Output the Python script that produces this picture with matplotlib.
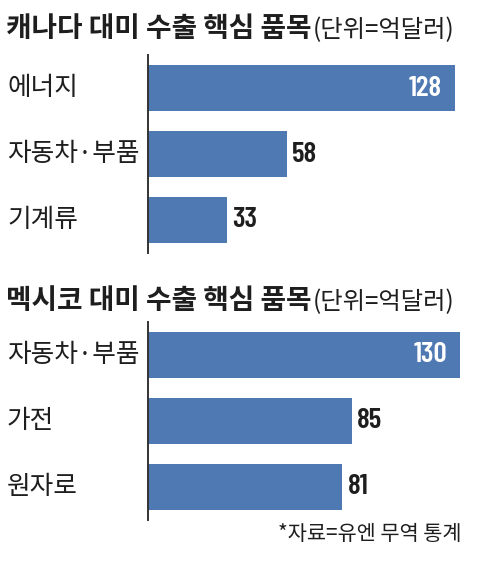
import matplotlib
matplotlib.use("Agg")
import matplotlib.pyplot as plt
import matplotlib.transforms as mtransforms

plt.rcParams['font.family'] = ['Noto Sans CJK KR', 'DejaVu Sans']

# Data (unit: 100 million USD)
canada_title = "캐나다 대미 수출 핵심 품목"
canada_items = ["에너지", "자동차·부품", "기계류"]
canada_values = [128, 58, 33]

mexico_title = "멕시코 대미 수출 핵심 품목"
mexico_items = ["자동차·부품", "가전", "원자로"]
mexico_values = [130, 85, 81]

unit_label = "(단위=억달러)"
source_label = "*자료=유엔 무역 통계"

W, H = 478, 580
BAR_COLOR = "#4e79b2"
TEXT_COLOR = "#1e1e1e"
NUM_FONT = ['Barlow Condensed', 'DejaVu Sans']

fig = plt.figure(figsize=(W / 100, H / 100), dpi=100)
fig.patch.set_facecolor("white")

px_per_unit = 2.4
axis_x = 148
xmax = (W - axis_x) / px_per_unit


def panel(top_px, title, title_center_px, items, values):
    bottom_px = top_px + 198
    ax = fig.add_axes([axis_x / W, 1 - bottom_px / H, (W - axis_x) / W, 198 / H])
    ax.set_xlim(0, xmax)
    ax.set_ylim(len(items) - 0.5, -0.5)
    ax.barh(range(len(items)), values, height=0.71, color=BAR_COLOR, zorder=2)
    for s in ("top", "right", "bottom"):
        ax.spines[s].set_visible(False)
    ax.spines["left"].set_color("#333333")
    ax.spines["left"].set_linewidth(1.4)
    ax.spines["left"].set_zorder(3)
    ax.set_xticks([])
    ax.set_yticks([])
    ax.patch.set_alpha(0)

    lab_tr = mtransforms.blended_transform_factory(fig.transFigure, ax.transData)
    for i, (name, v) in enumerate(zip(items, values)):
        ax.text(7 / W, i, name, transform=lab_tr, ha="left", va="center",
                fontsize=18.5, color=TEXT_COLOR)
        if v >= 100:
            ax.text(v - 13 / px_per_unit, i, str(v), ha="right", va="center",
                    fontsize=21, fontweight="semibold", color="white", family=NUM_FONT)
        else:
            ax.text(v + 5 / px_per_unit, i, str(v), ha="left", va="center",
                    fontsize=21, fontweight="semibold", color=TEXT_COLOR, family=NUM_FONT)

    t = fig.text(6 / W, 1 - title_center_px / H, title, ha="left", va="center",
                 fontsize=20, fontweight="bold", color=TEXT_COLOR)
    ax.annotate(unit_label, xy=(1, 0), xycoords=t, xytext=(1, 0),
                textcoords="offset points", ha="left", va="bottom",
                fontsize=17.5, color=TEXT_COLOR, annotation_clip=False)
    return ax


panel(55, canada_title, 29, canada_items, canada_values)
panel(322, mexico_title, 301, mexico_items, mexico_values)

fig.text(462 / W, 1 - 534 / H, source_label, ha="right", va="center",
         fontsize=15, color=TEXT_COLOR)

fig.savefig("out.png", dpi=100, facecolor="white")
